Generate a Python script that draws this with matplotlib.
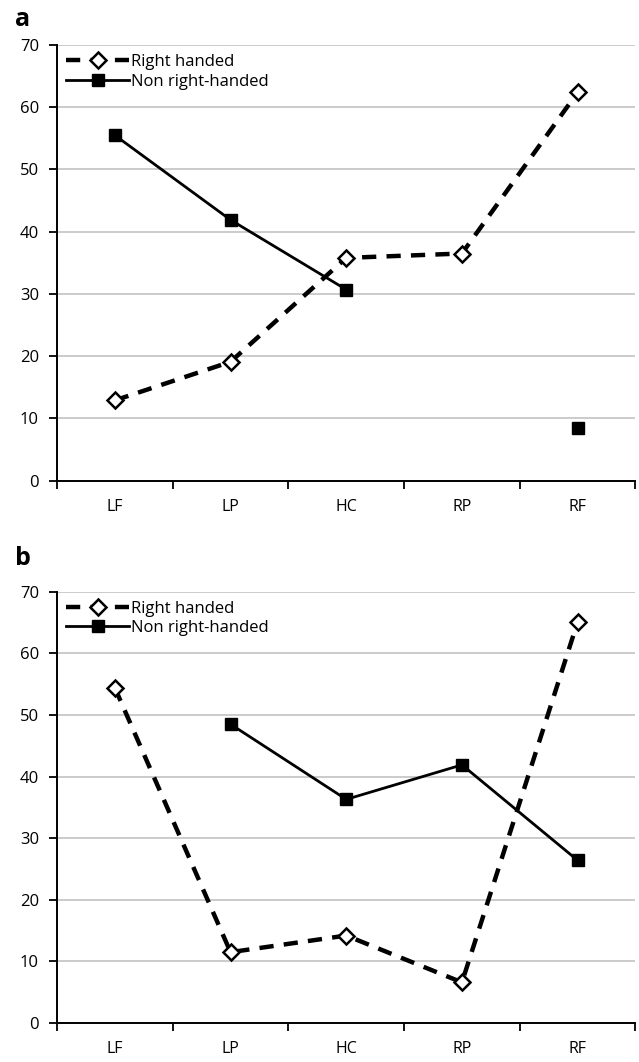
import numpy as np
import matplotlib
matplotlib.use("Agg")
from matplotlib import pyplot as plt

plt.rcParams['font.family'] = ['Open Sans', 'DejaVu Sans']

# 类别
regions = ["LF", "LP", "HC", "RP", "RF"]

# 图 a
a_right = [12.9, 19.1, 35.8, 36.5, 62.4]
a_nonright = [55.5, 41.9, 30.7, np.nan, 8.5]

# 图 b
b_right = [54.4, 11.5, 14.2, 6.6, 65.1]
b_nonright = [np.nan, 48.5, 36.3, 41.9, 26.4]

panel_labels = ["a", "b"]
series_names = ["Right handed", "Non right-handed"]
y_ticks = [0, 10, 20, 30, 40, 50, 60, 70]


def draw_panel(ax, right, nonright):
    "画一个子图"
    x = np.arange(len(regions))
    ax.plot(x, right, color='black', lw=3.2, dashes=(3.2, 2.3), dash_capstyle='butt',
            marker='D', ms=8.5, mfc='white', mec='black', mew=1.8,
            label=series_names[0], zorder=3)
    ax.plot(x, nonright, color='black', lw=2.0, marker='s', ms=9,
            mfc='black', mec='black', label=series_names[1], zorder=4)

    ax.set_xlim(-0.5, len(regions) - 0.5)
    ax.set_ylim(0, 70)
    ax.set_yticks(y_ticks)
    ax.set_yticklabels([str(v) for v in y_ticks], fontsize=12)
    ax.set_xticks(x)
    ax.set_xticklabels(regions, fontsize=11.5)
    #x轴刻度线在类别之间
    ax.set_xticks(np.arange(-0.5, len(regions), 1.0), minor=True)
    ax.tick_params(axis='x', which='major', length=0, pad=13)
    ax.tick_params(axis='x', which='minor', length=6, width=1.3, direction='out')
    ax.tick_params(axis='y', length=6, width=1.3, direction='out', pad=7)

    ax.yaxis.grid(True, color='#bdbdbd', lw=1.1)
    ax.set_axisbelow(True)
    for s in ['top', 'right']:
        ax.spines[s].set_visible(False)
    for s in ['left', 'bottom']:
        ax.spines[s].set_linewidth(1.4)
        ax.spines[s].set_color('black')

    ax.legend(loc='upper left', bbox_to_anchor=(0.0, 1.0), frameon=False,
              fontsize=12, handlelength=3.8, handletextpad=0.1,
              labelspacing=0.2, borderaxespad=0.25, borderpad=0.3)


def main():
    fig = plt.figure(figsize=(6.39, 10.62), dpi=100)
    ax_a = fig.add_axes([0.0892, 0.5474, 0.9053, 0.4102])
    ax_b = fig.add_axes([0.0892, 0.0367, 0.9053, 0.4061])

    draw_panel(ax_a, a_right, a_nonright)
    draw_panel(ax_b, b_right, b_nonright)

    fig.text(0.024, 0.982, panel_labels[0], fontsize=18, fontweight='bold', va='center', ha='left')
    fig.text(0.024, 0.474, panel_labels[1], fontsize=18, fontweight='bold', va='center', ha='left')

    fig.savefig("out.png", dpi=100)


if __name__ == "__main__":
    main()
